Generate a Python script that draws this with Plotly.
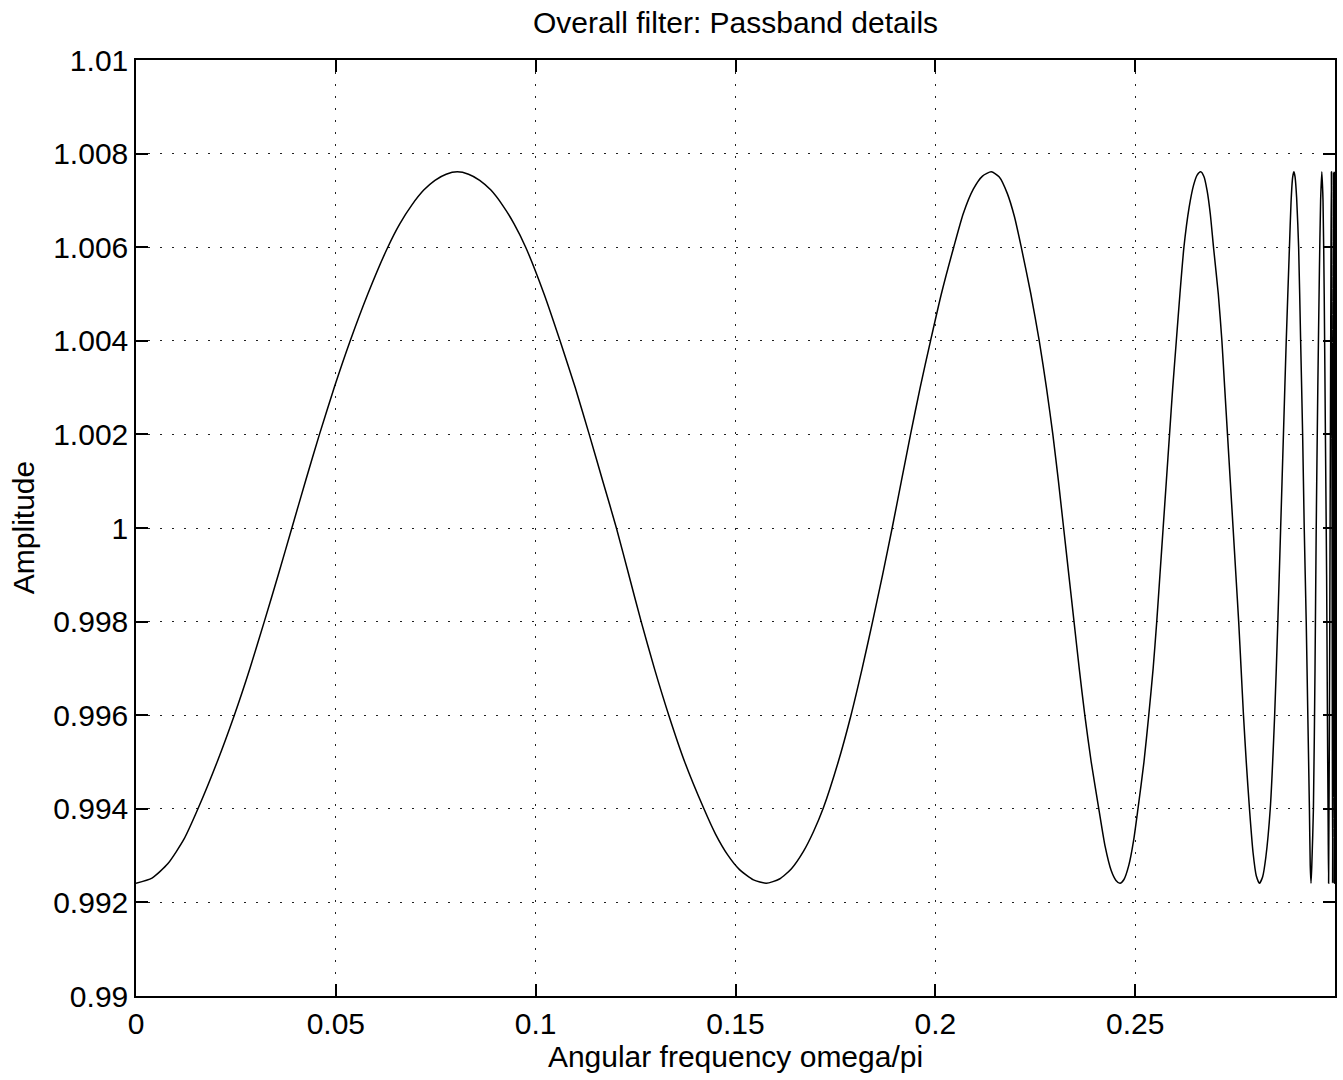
import plotly.graph_objects as go

# Values (angular frequency omega/pi, amplitude)
freq = [
    # rising lobe to first peak
    0.0000, 0.0040, 0.0080, 0.0120, 0.0155, 0.0203, 0.0246, 0.0285, 0.0321, 0.0356,
    0.0390, 0.0424, 0.0459, 0.0496, 0.0536, 0.0580, 0.0630, 0.0660, 0.0690, 0.0720,
    0.0748, 0.0776, 0.0804,
    # falling to minimum near 0.158
    0.0832, 0.0860, 0.0888, 0.0917, 0.0946, 0.0975, 0.1021, 0.1061, 0.1099, 0.1134,
    0.1168, 0.1202, 0.1233, 0.1264, 0.1297, 0.1333, 0.1373, 0.1421, 0.1450, 0.1480,
    0.1510, 0.1545, 0.1577,
    # rising to peak near 0.214
    0.1610, 0.1640, 0.1670, 0.1695, 0.1719, 0.1757, 0.1789, 0.1817, 0.1843, 0.1868,
    0.1892, 0.1915, 0.1938, 0.1962, 0.1988, 0.2015, 0.2046, 0.2070, 0.2095, 0.2118,
    0.2140,
    # falling to minimum near 0.246
    0.2160, 0.2180, 0.2198, 0.2215, 0.2239, 0.2260, 0.2278, 0.2294, 0.2308, 0.2321,
    0.2334, 0.2347, 0.2360, 0.2374, 0.2390, 0.2409, 0.2425, 0.2440, 0.2452, 0.2462,
    # rising to peak near 0.266
    0.2472, 0.2484, 0.2496, 0.2507, 0.2522, 0.2534, 0.2545, 0.2554, 0.2562, 0.2570,
    0.2578, 0.2586, 0.2594, 0.2603, 0.2612, 0.2622, 0.2635, 0.2646, 0.2655, 0.2664,
    # falling to minimum near 0.281
    0.2672, 0.2680, 0.2688, 0.2696, 0.2708, 0.2717, 0.2724, 0.2731, 0.2738, 0.2745,
    0.2752, 0.2759, 0.2765, 0.2771, 0.2778, 0.2786, 0.2795, 0.2803, 0.2811,
    # rising to peak near 0.290
    0.2819, 0.2827, 0.2838, 0.2849, 0.2857, 0.2864, 0.2871, 0.2878, 0.2886, 0.2890,
    0.2894, 0.2897,
    # falling to minimum near 0.294
    0.2900, 0.2904, 0.2909, 0.2914, 0.2919, 0.2923, 0.2928, 0.2932, 0.2936, 0.2938,
    0.2940,
    # rising to peak near 0.297
    0.2942, 0.2946, 0.2950, 0.2953, 0.2957, 0.2961, 0.2964, 0.2967,
    # falling to minimum near 0.2984
    0.2970, 0.2973, 0.2976, 0.2979, 0.2981, 0.2983, 0.2984,
    # compressed ripples at the band edge
    0.2987, 0.2990, 0.2991, 0.2993, 0.2994, 0.2996, 0.2998, 0.2999, 0.29995, 0.3000,
]
amplitude = [
    0.99241, 0.99252, 0.99283, 0.99335, 0.99400, 0.99500, 0.99600, 0.99700, 0.99800, 0.99900,
    1.00000, 1.00100, 1.00200, 1.00300, 1.00400, 1.00500, 1.00600, 1.00650, 1.00690, 1.00722,
    1.00743, 1.00756, 1.00761,
    1.00756, 1.00743, 1.00722, 1.00690, 1.00650, 1.00600, 1.00500, 1.00400, 1.00300, 1.00200,
    1.00100, 1.00000, 0.99900, 0.99800, 0.99700, 0.99600, 0.99500, 0.99400, 0.99346, 0.99302,
    0.99270, 0.99248, 0.99241,
    0.99250, 0.99272, 0.99309, 0.99351, 0.99400, 0.99500, 0.99600, 0.99700, 0.99800, 0.99900,
    1.00000, 1.00100, 1.00200, 1.00300, 1.00400, 1.00500, 1.00600, 1.00672, 1.00724, 1.00752,
    1.00761,
    1.00750, 1.00715, 1.00665, 1.00600, 1.00500, 1.00400, 1.00300, 1.00200, 1.00100, 1.00000,
    0.99900, 0.99800, 0.99700, 0.99600, 0.99500, 0.99400, 0.99319, 0.99268, 0.99247, 0.99241,
    0.99249, 0.99279, 0.99332, 0.99400, 0.99500, 0.99600, 0.99700, 0.99800, 0.99900, 1.00000,
    1.00100, 1.00200, 1.00300, 1.00400, 1.00500, 1.00600, 1.00685, 1.00732, 1.00754, 1.00761,
    1.00751, 1.00721, 1.00671, 1.00600, 1.00500, 1.00400, 1.00300, 1.00200, 1.00100, 1.00000,
    0.99900, 0.99800, 0.99700, 0.99600, 0.99500, 0.99400, 0.99306, 0.99257, 0.99241,
    0.99255, 0.99297, 0.99400, 0.99600, 0.99800, 1.00000, 1.00200, 1.00400, 1.00600, 1.00696,
    1.00749, 1.00761,
    1.00751, 1.00706, 1.00600, 1.00400, 1.00200, 1.00000, 0.99800, 0.99600, 0.99400, 0.99280,
    0.99241,
    0.99280, 0.99400, 0.99700, 1.00000, 1.00300, 1.00550, 1.00700, 1.00761,
    1.00700, 1.00500, 1.00200, 0.99900, 0.99600, 0.99350, 0.99241,
    0.99800, 1.00600, 1.00761, 0.99800, 0.99241, 1.00761, 0.99241, 1.00761, 0.99241, 1.00761,
]

x_tickvals = [0, 0.05, 0.1, 0.15, 0.2, 0.25]
x_ticktext = ["0", "0.05", "0.1", "0.15", "0.2", "0.25"]
y_tickvals = [0.99, 0.992, 0.994, 0.996, 0.998, 1.0, 1.002, 1.004, 1.006, 1.008, 1.01]
y_ticktext = ["0.99", "0.992", "0.994", "0.996", "0.998", "1", "1.002", "1.004", "1.006", "1.008", "1.01"]

FONT = "Liberation Sans, Arial, Helvetica, sans-serif"

fig = go.Figure()
fig.add_trace(go.Scatter(
    x=freq, y=amplitude, mode="lines",
    line=dict(color="black", width=1.5, shape="spline", smoothing=0.6),
    showlegend=False, hoverinfo="skip",
))

axis_common = dict(
    showline=True, linecolor="black", linewidth=1.5, mirror="ticks",
    ticks="inside", ticklen=12, tickwidth=1.5, tickcolor="black",
    showgrid=True, gridcolor="#222222", gridwidth=1.2, griddash="1.5px,10.5px",
    zeroline=False,
    tickfont=dict(family=FONT, size=30, color="black"),
)

fig.update_layout(
    width=1343, height=1080,
    margin=dict(l=136, r=6, t=60, b=84),
    paper_bgcolor="white", plot_bgcolor="white",
    font=dict(family=FONT, color="black"),
    title=dict(text="Overall filter: Passband details", x=0.5, xref="paper",
               y=1.0, yref="paper", yanchor="bottom", pad=dict(b=27),
               font=dict(family=FONT, size=30, color="black")),
    xaxis=dict(range=[0, 0.3], tickvals=x_tickvals, ticktext=x_ticktext,
               title=dict(text="Angular frequency omega/pi", standoff=2,
                          font=dict(family=FONT, size=30, color="black")),
               **axis_common),
    yaxis=dict(range=[0.99, 1.01], tickvals=y_tickvals, ticktext=y_ticktext,
               **axis_common),
    annotations=[dict(
        text="Amplitude", textangle=-90, showarrow=False,
        xref="paper", yref="paper", x=(23 - 136) / 1201, y=0.5,
        xanchor="center", yanchor="middle",
        font=dict(family=FONT, size=30, color="black"),
    )],
)

fig.write_html("out.html")
